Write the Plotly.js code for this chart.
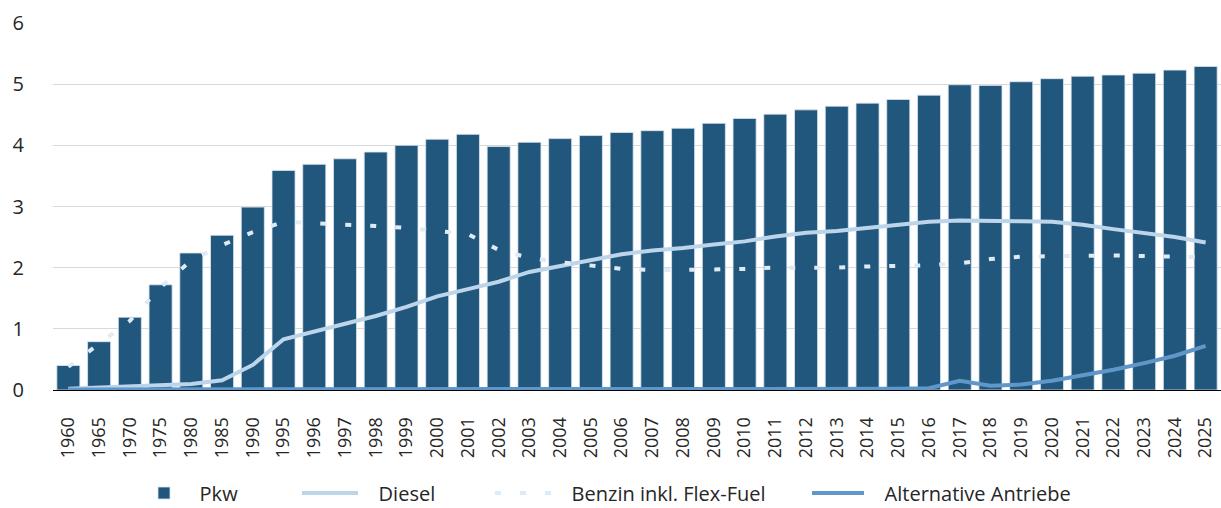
<!DOCTYPE html>
<html>
<head>
<meta charset="utf-8">
<script src="https://cdn.plot.ly/plotly-3.0.1.min.js"></script>
<style>html,body{margin:0;padding:0;background:#fff;}#chart{width:1221px;height:508px;}</style>
</head>
<body>
<div id="chart"></div>
<script>
var years = ['1960','1965','1970','1975','1980','1985','1990','1995','1996','1997','1998','1999','2000','2001','2002','2003','2004','2005','2006','2007','2008','2009','2010','2011','2012','2013','2014','2015','2016','2017','2018','2019','2020','2021','2022','2023','2024','2025'];
var pkw = [0.40,0.79,1.19,1.72,2.24,2.53,2.99,3.59,3.69,3.78,3.89,4.00,4.10,4.18,3.98,4.05,4.11,4.16,4.21,4.24,4.28,4.36,4.44,4.51,4.58,4.64,4.69,4.75,4.82,4.99,4.98,5.04,5.09,5.13,5.15,5.18,5.23,5.29];
var diesel = [0.02,0.04,0.05,0.07,0.10,0.16,0.41,0.83,0.96,1.08,1.21,1.36,1.53,1.65,1.77,1.93,2.03,2.13,2.22,2.28,2.32,2.38,2.43,2.51,2.57,2.60,2.65,2.70,2.75,2.77,2.77,2.76,2.75,2.70,2.63,2.56,2.50,2.41];
var benzin = [0.38,0.76,1.13,1.68,2.12,2.37,2.58,2.75,2.73,2.71,2.68,2.65,2.60,2.55,2.29,2.16,2.09,2.03,1.98,1.96,1.96,1.97,1.98,2.00,2.00,2.00,2.02,2.03,2.04,2.07,2.14,2.18,2.19,2.20,2.20,2.19,2.18,2.17];
var alternativ = [0.01,0.01,0.01,0.01,0.01,0.01,0.01,0.01,0.01,0.01,0.01,0.01,0.01,0.01,0.01,0.01,0.01,0.01,0.01,0.01,0.01,0.01,0.01,0.02,0.02,0.02,0.02,0.02,0.03,0.15,0.07,0.09,0.15,0.24,0.33,0.44,0.56,0.72];
var yTicks = [0,1,2,3,4,5,6];
var seriesNames = ['Pkw','Diesel','Benzin inkl. Flex-Fuel','Alternative Antriebe'];

var font = 'Open Sans, Noto Sans, sans-serif';
var pad = '\u00a0\u00a0\u00a0';
var data = [
  {type:'bar', name:pad+seriesNames[0], legend:'legend', x:years, y:pkw, marker:{color:'#22577d', line:{color:'rgba(220,230,240,0.8)', width:1}}},
  {type:'scatter', mode:'lines', name:pad+seriesNames[1], legend:'legend2', x:years, y:diesel, line:{color:'#bdd5ea', width:4}},
  {type:'scatter', mode:'lines', name:pad+seriesNames[2], legend:'legend3', x:years, y:benzin, line:{color:'#deebf7', width:4, dash:'6px,19px'}},
  {type:'scatter', mode:'lines', name:pad+seriesNames[3], legend:'legend4', x:years, y:alternativ, line:{color:'#5f97c9', width:4}}
];
function leg(xpx, w, ew){
  return {orientation:'h', xref:'container', yref:'container', x:xpx/1221, xanchor:'left', y:(508-493)/508, yanchor:'middle',
          font:{size:20, family:font, color:'#262626'}, itemwidth:w, entrywidth:ew, entrywidthmode:'pixels', bgcolor:'rgba(0,0,0,0)'};
}
var layout = {
  width:1221, height:508,
  margin:{l:53, r:0, t:23, b:118},
  paper_bgcolor:'#fff', plot_bgcolor:'#fff',
  bargap:0.25,
  font:{family:font, color:'#262626'},
  showlegend:true,
  legend:leg(144,30,110),
  legend2:leg(297,56,130),
  legend3:leg(490,56,290),
  legend4:leg(807,52,290),
  xaxis:{type:'category', tickangle:-90, tickfont:{size:18, family:font, color:'#262626'}, showgrid:false, showline:true, linecolor:'#000', linewidth:1, ticks:'outside', ticklen:19, tickcolor:'rgba(0,0,0,0)', automargin:false},
  yaxis:{range:[0,6], tickvals:yTicks, ticktext:yTicks.map(String), tickfont:{size:20, family:font, color:'#262626'}, showgrid:true, gridcolor:'#d9d9d9', gridwidth:1, zeroline:false, showline:false, ticks:'outside', ticklen:24, tickcolor:'rgba(0,0,0,0)', automargin:false}
};
Plotly.newPlot('chart', data, layout, {displayModeBar:false, staticPlot:true});
</script>
</body>
</html>
